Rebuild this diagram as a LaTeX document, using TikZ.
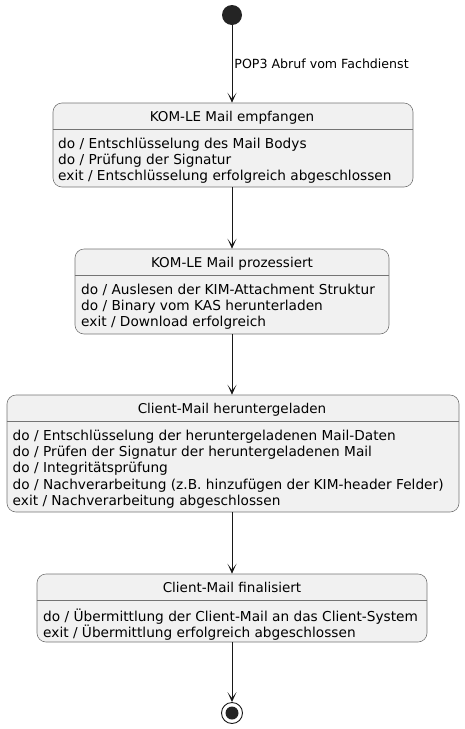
\documentclass[tikz,border=0pt]{standalone}
\usepackage{fontspec}
\setmainfont{DejaVu Sans}
\usetikzlibrary{arrows.meta}
\definecolor{statefill}{HTML}{F1F1F1}
\definecolor{stateline}{HTML}{181818}
\tikzset{
  statebox/.style={draw=stateline!60, fill=statefill, rounded corners=9pt, line width=0.6pt, inner sep=0pt},
  titletext/.style={font=\fontsize{13.5}{16.4}\selectfont, inner sep=0pt, anchor=base},
  bodytext/.style={font=\fontsize{13.7}{16.35}\selectfont, inner sep=0pt, align=left, anchor=north west},
  sepline/.style={draw=stateline!60, line width=0.6pt},
  flow/.style={draw=stateline, line width=0.9pt, -{Stealth[length=10pt,width=9pt,inset=6pt]}},
  translabel/.style={font=\fontsize{12.6}{15}\selectfont, inner sep=0pt, anchor=west},
}
\begin{document}
\begin{tikzpicture}[x=1pt,y=-1pt]
\useasboundingbox (0,0) rectangle (464,729);
% start
\node[circle, fill=stateline!95, minimum size=20pt, inner sep=0pt] (start) at (232,15) {};
% state 1
\node[statebox, minimum width=360pt, minimum height=84pt] (s1) at (233,145) {};
\node[titletext] (s1t) at (232,121) {KOM-LE Mail empfangen};
\draw[sepline] (s1.west |- 0,129) -- (s1.east |- 0,129);
\node[bodytext] (s1b) at (58,137.5) {do / Entschlüsselung des Mail Bodys\\do / Prüfung der Signatur\\exit / Entschlüsselung erfolgreich abgeschlossen};
% state 2
\node[statebox, minimum width=314pt, minimum height=85pt] (s2) at (232,291.5) {};
\node[titletext] (s2t) at (232,267) {KOM-LE Mail prozessiert};
\draw[sepline] (s2.west |- 0,275) -- (s2.east |- 0,275);
\node[bodytext] (s2b) at (81,283.5) {do / Auslesen der KIM-Attachment Struktur\\do / Binary vom KAS herunterladen\\exit / Download erfolgreich};
% state 3
\node[statebox, minimum width=452pt, minimum height=117pt] (s3) at (233,453.5) {};
\node[titletext] (s3t) at (232,413) {Client-Mail heruntergeladen};
\draw[sepline] (s3.west |- 0,421) -- (s3.east |- 0,421);
\node[bodytext] (s3b) at (12.5,429.5) {do / Entschlüsselung der heruntergeladenen Mail-Daten\\do / Prüfen der Signatur der heruntergeladenen Mail\\do / Integritätsprüfung\\do / Nachverarbeitung (z.B. hinzufügen der KIM-header Felder)\\exit / Nachverarbeitung abgeschlossen};
% state 4
\node[statebox, minimum width=390pt, minimum height=68pt] (s4) at (232,608) {};
\node[titletext] (s4t) at (232,592) {Client-Mail finalisiert};
\draw[sepline] (s4.west |- 0,600) -- (s4.east |- 0,600);
\node[bodytext] (s4b) at (43,608.5) {do / Übermittlung der Client-Mail an das Client-System\\exit / Übermittlung erfolgreich abgeschlossen};
% end
\node[circle, draw=stateline, line width=0.9pt, minimum size=21pt, inner sep=0pt] (end) at (232,713) {};
\node[circle, fill=stateline!95, minimum size=13pt, inner sep=0pt] (endin) at (end.center) {};
% transitions
\draw[flow] (start) -- node[translabel, pos=0.5, xshift=2pt] (lbl) {POP3 Abruf vom Fachdienst} (start |- s1.north);
\draw[flow] (start |- s1.south) -- (start |- s2.north);
\draw[flow] (start |- s2.south) -- (start |- s3.north);
\draw[flow] (start |- s3.south) -- (start |- s4.north);
\draw[flow] (s4.south) -- (end);
\end{tikzpicture}
\end{document}
